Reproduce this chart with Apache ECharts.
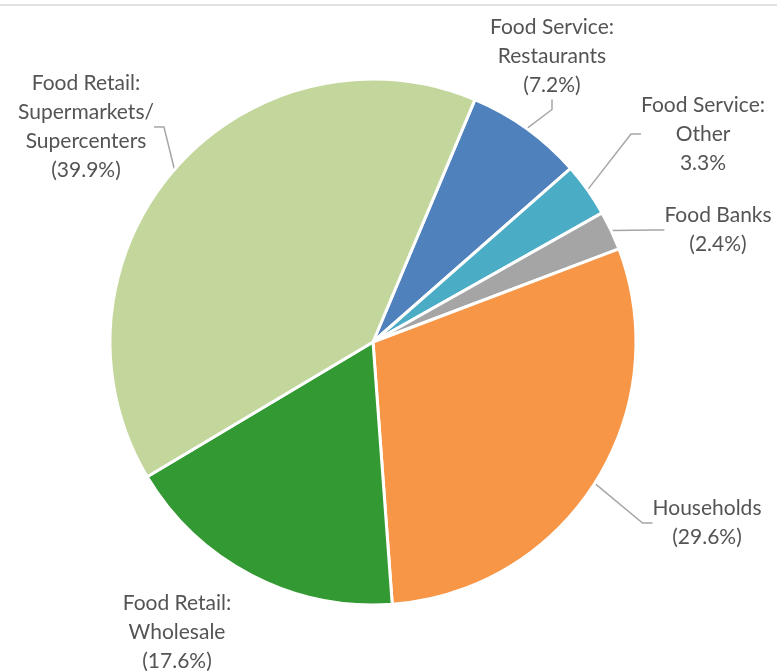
<!DOCTYPE html>
<html>
<head>
<meta charset="utf-8">
<script src="https://cdn.jsdelivr.net/npm/echarts@6/dist/echarts.min.js"></script>
<style>
html,body{margin:0;padding:0;background:#fff;}
#c{width:777px;height:671px;}
</style>
</head>
<body>
<div id="c"></div>
<script>
const categories = [
  'Food Service:\nRestaurants',
  'Food Service:\nOther',
  'Food Banks',
  'Households',
  'Food Retail:\nWholesale',
  'Food Retail:\nSupermarkets/\nSupercenters'
];
const values = [7.2, 3.3, 2.4, 29.6, 17.6, 39.9];
const pctLabels = ['(7.2%)', '3.3%', '(2.4%)', '(29.6%)', '(17.6%)', '(39.9%)'];
const colors = ['#4F81BD', '#4BACC6', '#A5A5A5', '#F79646', '#339933', '#C3D69B'];
const labelPos = [[552, 56], [703, 134], [718, 230], [707, 523], [177, 632], [86, 127]];
const showLine = [true, true, true, true, false, true];

const chart = echarts.init(document.getElementById('c'), null, {renderer: 'canvas'});
chart.setOption({
  backgroundColor: '#fff',
  animation: false,
  graphic: [{
    type: 'line',
    shape: {x1: 0, y1: 5, x2: 777, y2: 5},
    style: {stroke: '#D9D9D9', lineWidth: 1.5}
  }],
  series: [{
    type: 'pie',
    center: [373, 342],
    radius: [0, 263],
    startAngle: 67.2,
    clockwise: true,
    avoidLabelOverlap: false,
    itemStyle: {borderColor: '#fff', borderWidth: 3},
    label: {
      show: true,
      position: 'outside',
      color: '#545454',
      fontFamily: 'Lato, "Open Sans", sans-serif',
      fontSize: 21,
      lineHeight: 29,
      align: 'center',
      formatter: p => categories[p.dataIndex] + '\n' + pctLabels[p.dataIndex]
    },
    labelLine: {show: true, lineStyle: {color: '#A6A6A6', width: 1.5}, length: 10, length2: 10},
    labelLayout: p => ({
      x: labelPos[p.dataIndex][0],
      y: labelPos[p.dataIndex][1],
      align: 'center',
      verticalAlign: 'middle'
    }),
    data: values.map((v, i) => ({
      name: categories[i],
      value: v,
      itemStyle: {color: colors[i]},
      labelLine: {show: showLine[i]}
    }))
  }]
});
</script>
</body>
</html>
